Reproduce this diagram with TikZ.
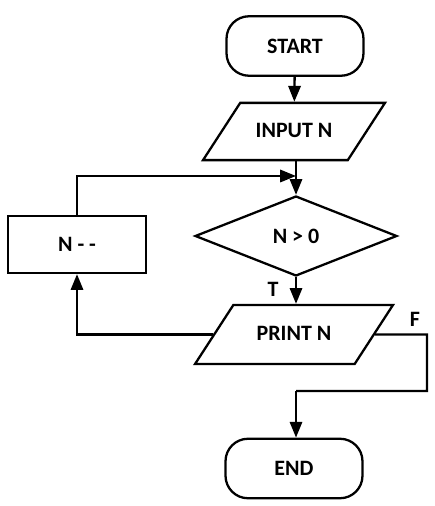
\documentclass[tikz,border=0pt]{standalone}
\usepackage{fontspec}
\setmainfont{Carlito}
\usetikzlibrary{shapes.geometric,arrows.meta}
\begin{document}
\begin{tikzpicture}[x=0.02cm,y=-0.02cm,
	every node/.style={font=\fontsize{12.5}{14}\selectfont\bfseries},
	box/.style={draw, line width=1.3pt, inner sep=0pt},
	term/.style={box, rectangle, rounded corners=0.45cm, minimum width=2.74cm, minimum height=1.19cm},
	io/.style={box, trapezium, trapezium left angle=57, trapezium right angle=123, trapezium stretches body, text height=8pt, text depth=1pt, inner ysep=11.8pt},
	cond/.style={box, diamond, minimum width=4.04cm, minimum height=1.6cm},
	proc/.style={box, rectangle, minimum width=2.76cm, minimum height=1.14cm},
	flow/.style={line width=1.3pt, -{Triangle[length=9pt,width=7pt]}},
	line/.style={line width=1.3pt}]
	\useasboundingbox (0,0) rectangle (434,506);
	% Nodes
	\node[term] (start) at (295,46)  {START};
	\node[io, minimum width=3.64cm] (input) at (294,131.5) {INPUT N};
	\node[cond] (check) at (296,236) {N > 0};
	\node[proc] (dec)   at (77,244.5) {N - -};
	\node[io, minimum width=3.96cm, inner ysep=12.3pt] (print) at (294,334.5) {PRINT N};
	\node[term] (end)   at (294,468.5) {END};
	% Joins
	\coordinate (loop) at (296,176);
	\coordinate (turn) at (427,334.5);
	\coordinate (back) at (296,391);
	% Connectors
	\draw[flow] (start) -- (input);
	\draw[line] (input.south -| check.north) -- (loop);
	\draw[flow] (loop) -- (check);
	\draw[flow] (dec.north) |- (loop);
	\draw[flow] (check) -- node[left=6pt, pos=0.45] {T} (print.north -| check.south);
	\draw[flow] (print.west) -| (dec.south);
	\draw[line] (print.east) -- (turn) |- (back);
	\draw[flow] (back) -- (back |- end.north);
	% Labels
	\node (false) at (415,319) {F};
\end{tikzpicture}
\end{document}
